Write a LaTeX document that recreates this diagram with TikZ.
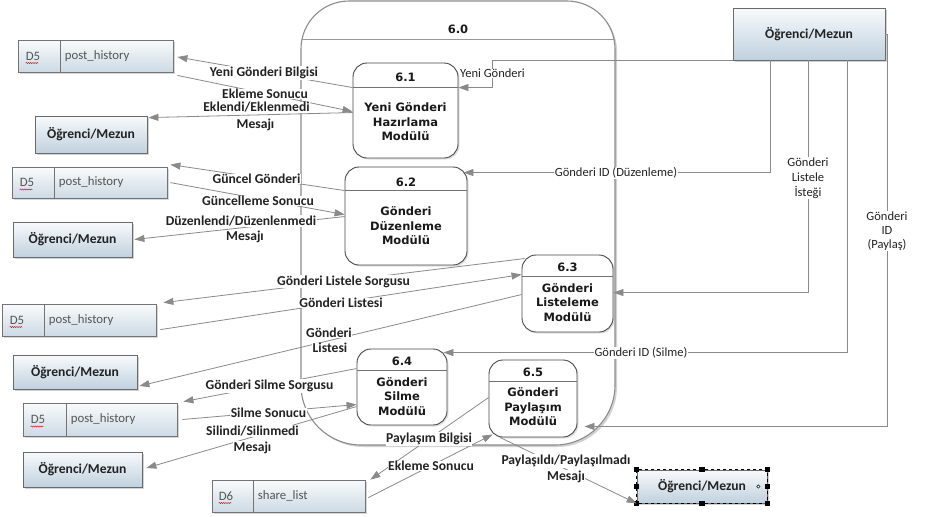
\documentclass[tikz,border=0pt]{standalone}
\usepackage{fontspec}
\setmainfont{Carlito}
\newfontfamily\procf{DejaVu Sans}
\usetikzlibrary{arrows.meta,shadows,decorations.pathmorphing,calc}
\definecolor{lineg}{HTML}{8A8A8A}
\definecolor{entTop}{HTML}{F8FAFC}
\definecolor{entBot}{HTML}{C0D1DE}
\definecolor{dsTop}{HTML}{F9FBFC}
\definecolor{dsBot}{HTML}{CDDAE4}
\definecolor{bordg}{HTML}{6A6A6A}
\definecolor{txtg}{HTML}{222222}
\definecolor{dstxt}{HTML}{555555}
\begin{document}
\begin{tikzpicture}[x=1pt,y=-1pt,
  bigbox/.style={draw=black!45, line width=1.1pt, fill=white,
    drop shadow={shadow xshift=2pt, shadow yshift=-2pt, opacity=0.4, fill=black!45}},
  proc/.style={draw=black!72, line width=0.9pt, fill=white, rounded corners=14pt, inner sep=0pt,
    drop shadow={shadow xshift=1.5pt, shadow yshift=-1.5pt, opacity=0.3, fill=black!40}},
  procline/.style={draw=black!55, line width=0.8pt},
  ptitle/.style={font=\procf\bfseries\fontsize{11.5}{14}\selectfont, text=black!90, inner sep=0pt},
  pbody/.style={font=\procf\bfseries\fontsize{11.5}{14.5}\selectfont, text=black!90, align=center, inner sep=0pt},
  ent/.style={draw=bordg, line width=0.8pt, top color=entTop, bottom color=entBot, inner sep=0pt,
    font=\bfseries\fontsize{13.6}{15}\selectfont, text=txtg,
    drop shadow={shadow xshift=2pt, shadow yshift=-2pt, opacity=0.35, fill=black!50}},
  dstore/.style={draw=black!55, line width=0.8pt, top color=dsTop, bottom color=dsBot, inner sep=0pt,
    drop shadow={shadow xshift=1.5pt, shadow yshift=-1.5pt, opacity=0.3, fill=black!50}},
  dsline/.style={draw=black!55, line width=1pt},
  dstext/.style={font=\fontsize{12.8}{14}\selectfont, text=dstxt, inner sep=0pt, anchor=west},
  squig/.style={draw=red!85!black, line width=0.4pt, decorate, decoration={snake, amplitude=0.6pt, segment length=2.2pt}},
  flow/.style={draw=lineg, line width=0.8pt, -{Triangle[length=10pt,width=7pt]}},
  lbl/.style={fill=white, inner sep=0.6pt, font=\bfseries\fontsize{13.6}{15}\selectfont, text=txtg, align=center},
  rlbl/.style={fill=white, inner sep=0.6pt, font=\fontsize{12.5}{14.5}\selectfont, text=txtg, align=center},
  handle/.style={fill=black},
]
\fill[white] (0,0) rectangle (935,517);
\useasboundingbox (0,0) rectangle (935,517);

% ---- 6.0 container ----
\draw[bigbox] (349,1) -- (567,1) arc[start angle=90,end angle=0,radius=48pt]
  -- (615,385) arc[start angle=0,end angle=-90,radius=60pt]
  -- (361,445) arc[start angle=-90,end angle=-180,radius=60pt]
  -- (301,49) arc[start angle=180,end angle=90,radius=48pt] -- cycle;
\draw[procline, draw=black!40] (302,39) -- (614,39);
\node[ptitle] (t0) at (458,29) {6.0};

% ---- processes ----
\node[proc, minimum width=105pt, minimum height=95pt] (p1) at (405.5,110.5) {};
\draw[procline] ([yshift=-25pt]p1.north west) -- ([yshift=-25pt]p1.north east);
\node[ptitle] (p1t) at (405.5,77) {6.1};
\node[pbody] (p1b) at (405.5,122) {Yeni Gönderi\\Hazırlama\\Modülü};

\node[proc, minimum width=122pt, minimum height=98pt] (p2) at (406,216) {};
\draw[procline] ([yshift=-24pt]p2.north west) -- ([yshift=-24pt]p2.north east);
\node[ptitle] (p2t) at (406,182) {6.2};
\node[pbody] (p2b) at (406,226) {Gönderi\\Düzenleme\\Modülü};

\node[proc, minimum width=91pt, minimum height=77pt] (p3) at (567.5,293.5) {};
\draw[procline] ([yshift=-22pt]p3.north west) -- ([yshift=-22pt]p3.north east);
\node[ptitle] (p3t) at (567.5,267) {6.3};
\node[pbody] (p3b) at (567.5,302.5) {Gönderi\\Listeleme\\Modülü};

\node[proc, minimum width=90pt, minimum height=76pt] (p4) at (402,387) {};
\draw[procline] ([yshift=-22pt]p4.north west) -- ([yshift=-22pt]p4.north east);
\node[ptitle] (p4t) at (402,361) {6.4};
\node[pbody] (p4b) at (402,396.5) {Gönderi\\Silme\\Modülü};

\node[proc, minimum width=88pt, minimum height=77pt] (p5) at (533,398.5) {};
\draw[procline] ([yshift=-22pt]p5.north west) -- ([yshift=-22pt]p5.north east);
\node[ptitle] (p5t) at (533,372) {6.5};
\node[pbody] (p5b) at (533,407) {Gönderi\\Paylaşım\\Modülü};

% ---- external entities ----
\node[ent, minimum width=152pt, minimum height=52pt] (e1) at (809,34) {Öğrenci/Mezun};
\node[ent, minimum width=112pt, minimum height=37pt] (e2) at (91,134.5) {Öğrenci/Mezun};
\node[ent, minimum width=119pt, minimum height=35pt] (e3) at (72.5,239.5) {Öğrenci/Mezun};
\node[ent, minimum width=124pt, minimum height=34pt] (e4) at (75,372) {Öğrenci/Mezun};
\node[ent, minimum width=119pt, minimum height=35pt] (e5) at (82.5,469.5) {Öğrenci/Mezun};
\node[ent, minimum width=130pt, minimum height=33pt] (e6) at (702,486.5) {Öğrenci/Mezun};

% selection handles on e6
\draw[black, line width=0.6pt, dash pattern=on 3pt off 3pt] (e6.north west) rectangle (e6.south east);
\foreach \a in {north west,north,north east,west,east,south west,south,south east}{
  \fill[handle] ($(e6.\a)+(-2.6,-2.6)$) rectangle ++(5.2,5.2);
}
\draw[black, fill=white, line width=0.5pt] ([xshift=-9pt]e6.east) circle (1.7pt);

% ---- data stores ----
\node[dstore, minimum width=155pt, minimum height=32pt] (ds1) at (95.5,56) {};
\draw[dsline] ([xshift=43pt]ds1.north west) -- ([xshift=43pt]ds1.south west);
\node[dstext] (ds1a) at ([xshift=8pt]ds1.west) {D5};
\node[dstext] (ds1b) at ([xshift=47pt]ds1.west) {post\_history};
\draw[squig] ([xshift=8pt,yshift=-7pt]ds1.west) -- ++(13,0);

\node[dstore, minimum width=155pt, minimum height=31pt] (ds2) at (89.5,182.5) {};
\draw[dsline] ([xshift=43pt]ds2.north west) -- ([xshift=43pt]ds2.south west);
\node[dstext] (ds2a) at ([xshift=8pt]ds2.west) {D5};
\node[dstext] (ds2b) at ([xshift=47pt]ds2.west) {post\_history};
\draw[squig] ([xshift=8pt,yshift=-7pt]ds2.west) -- ++(13,0);

\node[dstore, minimum width=154pt, minimum height=32pt] (ds3) at (79,320) {};
\draw[dsline] ([xshift=43pt]ds3.north west) -- ([xshift=43pt]ds3.south west);
\node[dstext] (ds3a) at ([xshift=8pt]ds3.west) {D5};
\node[dstext] (ds3b) at ([xshift=47pt]ds3.west) {post\_history};
\draw[squig] ([xshift=8pt,yshift=-7pt]ds3.west) -- ++(13,0);

\node[dstore, minimum width=154pt, minimum height=33pt] (ds4) at (100,419.5) {};
\draw[dsline] ([xshift=44pt]ds4.north west) -- ([xshift=44pt]ds4.south west);
\node[dstext] (ds4a) at ([xshift=8pt]ds4.west) {D5};
\node[dstext] (ds4b) at ([xshift=48pt]ds4.west) {post\_history};
\draw[squig] ([xshift=8pt,yshift=-7pt]ds4.west) -- ++(13,0);

\node[dstore, minimum width=153pt, minimum height=32pt] (ds5) at (288.5,496) {};
\draw[dsline] ([xshift=42pt]ds5.north west) -- ([xshift=42pt]ds5.south west);
\node[dstext] (ds5a) at ([xshift=7pt]ds5.west) {D6};
\node[dstext] (ds5b) at ([xshift=46pt]ds5.west) {share\_list};
\draw[squig] ([xshift=7pt,yshift=-7pt]ds5.west) -- ++(13,0);

% ---- flows ----
% 6.1
\draw[flow] ([yshift=-25pt]p1.north west) -- ([xshift=4pt,yshift=-1pt]ds1.east);
\draw[flow] ([xshift=4pt,yshift=-3pt]ds1.south east) -- ([yshift=-49pt]p1.north west);
\draw[flow] ([yshift=-50pt]p1.north west) -- ([xshift=1pt,yshift=-2pt]e2.north east);
\draw[flow] (e1.south west) -- ++(-240,0) |- ([yshift=-25pt]p1.north east);
% 6.2
\draw[flow] ([yshift=-24pt]p2.north west) -- ([xshift=3pt,yshift=2pt]ds2.north east);
\draw[flow] ([xshift=3pt,yshift=-16pt]ds2.north east) -- ([yshift=-48pt]p2.north west);
\draw[flow] ([yshift=-50pt]p2.north west) -- ([xshift=2pt]e3.east);
\draw[flow] ([xshift=-39pt]e1.south) |- ([xshift=-4pt,yshift=-6pt]p2.north east);
% 6.3
\draw[flow] ([xshift=3pt,yshift=-4pt]p3.north west) -- ([xshift=7pt,yshift=1pt]ds3.north east);
\draw[flow] ([xshift=4pt,yshift=-26pt]ds3.north east) -- ([yshift=-20pt]p3.north west);
\draw[flow] ([yshift=-40pt]p3.north west) -- ([xshift=2pt,yshift=-14pt]e4.east);
\draw[flow] ([xshift=-1pt]e1.south) |- ([yshift=-38pt]p3.north east);
% 6.4
\draw[flow] ([yshift=-20pt]p4.north west) -- ([xshift=6pt,yshift=1pt]ds4.north east);
\draw[flow] ([xshift=5pt]ds4.east) -- ([yshift=-56pt]p4.north west);
\draw[flow] ([yshift=-58pt]p4.north west) -- ([xshift=4pt,yshift=1.5pt]e5.east);
\draw[flow] ([xshift=38pt]e1.south) |- ([xshift=-4pt,yshift=-4pt]p4.north east);
% 6.5
\draw[flow] ([yshift=-38pt]p5.north west) -- ([xshift=5pt]ds5.north east);
\draw[flow] ([xshift=3pt,yshift=-18pt]ds5.north east) -- ([xshift=4pt,yshift=3pt]p5.south west);
\draw[flow] ([xshift=-33pt]p5.south) -- (e6.south west);
\draw[flow] (e1.east) -- ++(2,0) |- ([xshift=7pt,yshift=11pt]p5.south east);

% ---- labels ----
\node[lbl] (l1) at (264,73) {Yeni Gönderi Bilgisi};
\node[lbl] (l2) at (265,94) {Ekleme Sonucu};
\node[lbl] (l3) at (256.5,107.5) {Eklendi/Eklenmedi};
\node[lbl] (l3b) at (255.5,125) {Mesajı};
\node[rlbl] (l4) at (492.5,73.5) {Yeni Gönderi};

\node[lbl] (l5) at (256.5,179) {Güncel Gönderi};
\node[lbl] (l6) at (258,201) {Güncelleme Sonucu};
\node[lbl] (l7) at (241,221) {Düzenlendi/Düzenlenmedi};
\node[lbl] (l7b) at (245,237) {Mesajı};
\node[rlbl] (l8) at (616,173) {Gönderi ID (Düzenleme)};

\node[lbl] (l9) at (343.5,281.5) {Gönderi Listele Sorgusu};
\node[lbl] (l10) at (341,303) {Gönderi Listesi};
\node[lbl] (l11) at (329,333) {Gönderi};
\node[lbl] (l11b) at (330,348) {Listesi};
\node[rlbl, font=\fontsize{12.5}{15}\selectfont] (l12) at (808,178) {Gönderi\\Listele\\İsteği};

\node[lbl] (l13) at (269.5,386) {Gönderi Silme Sorgusu};
\node[lbl] (l14) at (268.5,413) {Silme Sonucu};
\node[lbl] (l15) at (252.5,431) {Silindi/Silinmedi};
\node[lbl] (l15b) at (252.5,447.5) {Mesajı};
\node[rlbl] (l16) at (641,353) {Gönderi ID (Silme)};

\node[lbl] (l17) at (429,439) {Paylaşım Bilgisi};
\node[lbl] (l18) at (431,466) {Ekleme Sonucu};
\node[lbl] (l19) at (566,461) {Paylaşıldı/Paylaşılmadı};
\node[lbl] (l19b) at (566,476.5) {Mesajı};
\node[rlbl, font=\fontsize{12.5}{14}\selectfont] (l20) at (887,231) {Gönderi\\ID\\(Paylaş)};
\end{tikzpicture}
\end{document}
